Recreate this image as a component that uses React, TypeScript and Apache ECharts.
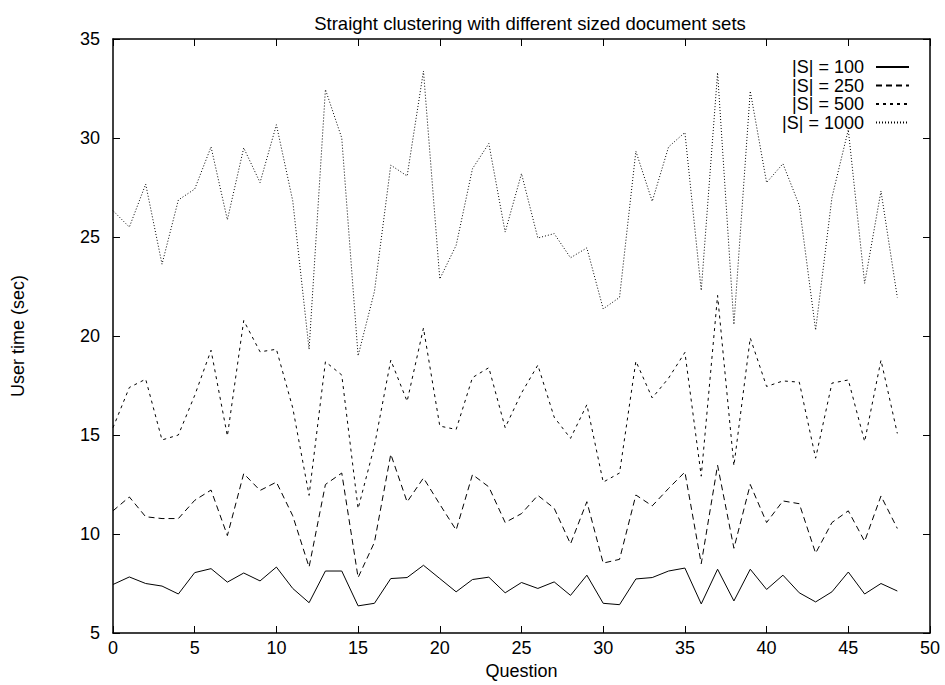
import React, { useEffect, useRef } from "react";
import * as echarts from "echarts";

const questions = [0,1,2,3,4,5,6,7,8,9,10,11,12,13,14,15,16,17,18,19,20,21,22,23,24,25,26,27,28,29,30,31,32,33,34,35,36,37,38,39,40,41,42,43,44,45,46,47,48];

const s100 = [7.45,7.83,7.5,7.37,6.97,8.05,8.25,7.57,8.03,7.63,8.33,7.25,6.53,8.13,8.13,6.37,6.5,7.75,7.8,8.42,7.75,7.08,7.7,7.82,7.03,7.55,7.25,7.58,6.9,7.92,6.5,6.43,7.73,7.8,8.13,8.28,6.47,8.22,6.62,8.22,7.2,7.92,7.03,6.57,7.08,8.08,6.97,7.5,7.12];
const s250 = [11.17,11.87,10.87,10.78,10.78,11.7,12.22,9.92,13.05,12.2,12.62,10.92,8.33,12.5,13.08,7.8,9.58,14.03,11.62,12.83,11.5,10.2,13.0,12.38,10.58,11.03,11.95,11.3,9.5,11.63,8.53,8.72,11.97,11.42,12.3,13.13,8.5,13.47,9.28,12.5,10.58,11.67,11.53,9.03,10.58,11.17,9.63,11.92,10.28];
const s500 = [15.37,17.4,17.82,14.75,15.0,17.0,19.28,14.95,20.78,19.2,19.33,16.37,11.95,18.7,18.03,11.28,14.45,18.78,16.7,20.4,15.45,15.28,17.9,18.4,15.37,17.12,18.53,15.9,14.83,16.53,12.62,13.08,18.73,16.87,17.87,19.17,12.92,22.05,13.45,19.9,17.45,17.73,17.67,13.83,17.62,17.78,14.67,18.78,15.08];
const s1000 = [26.33,25.5,27.67,23.63,26.87,27.42,29.55,25.87,29.5,27.75,30.67,26.83,19.33,32.45,30.0,19.0,22.25,28.63,28.08,33.38,22.88,24.58,28.45,29.72,25.25,28.2,24.95,25.17,23.95,24.45,21.37,21.95,29.33,26.8,29.55,30.28,22.3,33.3,20.58,32.37,27.75,28.7,26.6,20.3,27.0,30.42,22.66,27.32,21.95];

const seriesNames = ["|S| = 100", "|S| = 250", "|S| = 500", "|S| = 1000"];
const titleText = "Straight clustering with different sized document sets";
const xLabel = "Question";
const yLabel = "User time (sec)";

const FONT = "Liberation Sans, Arial, sans-serif";

export default function App() {
  const ref = useRef<HTMLDivElement>(null);
  useEffect(() => {
    document.body.style.margin = "0";
    const chart = echarts.init(ref.current!, null, { renderer: "svg" });
    const values = [s100, s250, s500, s1000];
    const dashes: any[] = ["solid", [6, 4], [3, 4], [1, 2]];
    const axisCommon = {
      type: "value" as const,
      axisLine: { show: true, onZero: false, lineStyle: { color: "#000", width: 1.5 } },
      axisTick: { show: true, inside: true, length: 7, lineStyle: { color: "#000", width: 1 } },
      splitLine: { show: false },
    };
    chart.setOption({
      animation: false,
      backgroundColor: "#fff",
      textStyle: { fontFamily: FONT },
      title: {
        text: titleText,
        left: 525,
        top: 9,
        textAlign: "center",
        textStyle: { fontSize: 18.5, fontWeight: "normal", color: "#000", fontFamily: FONT },
      },
      grid: { left: 113, right: 15, top: 39, bottom: 48 },
      legend: {
        orient: "vertical",
        right: 35,
        top: 58,
        padding: 0,
        align: "right",
        itemWidth: 33,
        itemHeight: 10,
        itemGap: 0.5,
        itemStyle: { opacity: 0 },
        textStyle: { fontSize: 18, color: "#000", fontFamily: FONT, lineHeight: 18, padding: [0, 7, 0, 0] },
        data: seriesNames,
      },
      xAxis: [
        {
          ...axisCommon,
          position: "bottom",
          min: 0,
          max: 50,
          interval: 5,
          name: xLabel,
          nameLocation: "middle",
          nameGap: 29,
          nameTextStyle: { fontSize: 18, color: "#000", fontFamily: FONT },
          axisLabel: { fontSize: 18, color: "#000", margin: 6, fontFamily: FONT },
        },
        {
          ...axisCommon,
          position: "top",
          min: 0,
          max: 50,
          interval: 5,
          axisLabel: { show: false },
        },
      ],
      yAxis: [
        {
          ...axisCommon,
          position: "left",
          min: 5,
          max: 35,
          interval: 5,
          name: yLabel,
          nameLocation: "middle",
          nameRotate: 90,
          nameGap: 86,
          nameTextStyle: { fontSize: 18, color: "#000", fontFamily: FONT },
          axisLabel: { fontSize: 18, color: "#000", margin: 13, fontFamily: FONT },
        },
        {
          ...axisCommon,
          position: "right",
          min: 5,
          max: 35,
          interval: 5,
          axisLabel: { show: false },
        },
      ],
      series: seriesNames.map((name, k) => ({
        name,
        type: "line",
        xAxisIndex: 0,
        yAxisIndex: 0,
        symbol: "none",
        showSymbol: false,
        data: questions.map((q, i) => [q, values[k][i]]),
        lineStyle: { color: "#000", width: 1, type: dashes[k] },
        itemStyle: { color: "#000" },
      })),
    });
    return () => chart.dispose();
  }, []);
  return <div ref={ref} style={{ position: "fixed", left: 0, top: 0, width: 945, height: 685 }} />;
}
